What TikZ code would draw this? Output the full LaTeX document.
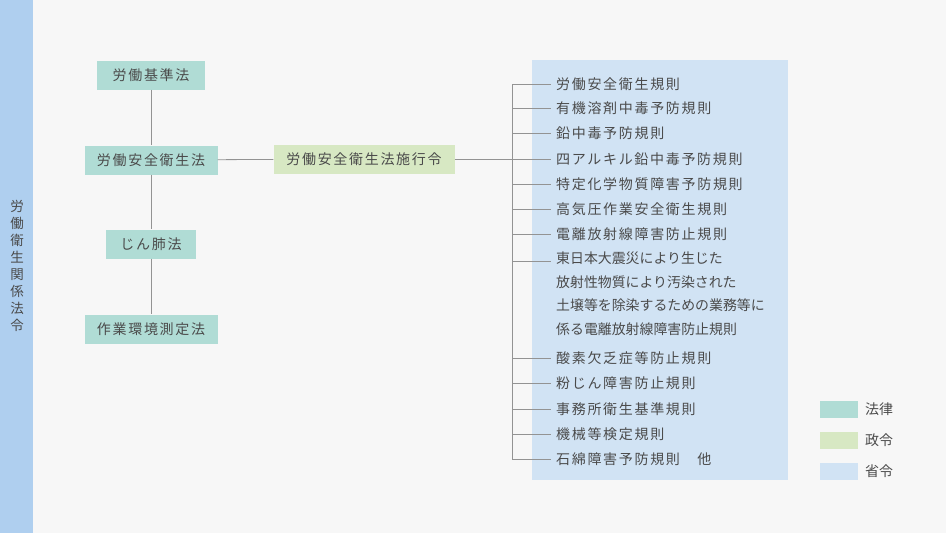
\documentclass[tikz,border=0pt]{standalone}
\usepackage{fontspec}
\newfontfamily\jpfont{Noto Sans CJK JP}
\newfontfamily\jpwide[LetterSpace=12]{Noto Sans CJK JP}
\definecolor{bg}{HTML}{F7F7F7}
\definecolor{sidebar}{HTML}{AFCFEF}
\definecolor{law}{HTML}{B0DCD5}
\definecolor{order}{HTML}{D7E8C3}
\definecolor{rule}{HTML}{D1E3F4}
\definecolor{txt}{HTML}{4A4A4A}
\definecolor{wire}{HTML}{939393}

\begin{document}
\begin{tikzpicture}[x=1pt,y=-1pt,
  every node/.style={text=txt,font=\jpwide\fontsize{14}{16}\selectfont},
  lawbox/.style={fill=law,minimum height=29pt,inner sep=0pt},
  orderbox/.style={fill=order,minimum height=29pt,inner sep=0pt},
  item/.style={anchor=west,inner xsep=5pt,inner ysep=0pt},
  key/.style={minimum width=38pt,minimum height=17pt,inner sep=0pt},
  wire/.style={draw=wire,line width=0.8pt}]
  \fill[bg] (0,0) rectangle (946,533);
  \fill[sidebar] (0,0) rectangle (33,533);
  \fill[rule] (532,60) rectangle (788,480);
  \node[align=center,font=\jpfont\fontsize{13.5}{16.9}\selectfont] (side) at (17,266) {労\\働\\衛\\生\\関\\係\\法\\令};
  % laws
  \path (151,75) node[lawbox,minimum width=108pt] (lsa) {労働基準法}
  (151,160) node[lawbox,minimum width=133pt] (ish) {労働安全衛生法}
  (151,244) node[lawbox,minimum width=90pt] (pnc) {じん肺法}
  (151,329) node[lawbox,minimum width=133pt] (wem) {作業環境測定法}
  (364,159) node[orderbox,minimum width=181pt] (ord) {労働安全衛生法施行令};
  \draw[wire] (lsa) -- (ish) -- (pnc) -- (wem);
  \draw[wire] (ish) -- (ord);
  \coordinate (st) at (512,84);
  \coordinate (sb) at (512,459);
  \draw[wire] (ord.east) -- (512,159);
  \draw[wire] (st) -- (sb);
  % ordinances
  \foreach \y/\n/\t in {84/r1/労働安全衛生規則,108/r2/有機溶剤中毒予防規則,133/r3/鉛中毒予防規則,
    159/r4/四アルキル鉛中毒予防規則,184/r5/特定化学物質障害予防規則,209/r6/高気圧作業安全衛生規則,
    234/r7/電離放射線障害防止規則,358/r8/酸素欠乏症等防止規則,383/r9/粉じん障害防止規則,
    409/r10/事務所衛生基準規則,434/r11/機械等検定規則,459/r12/石綿障害予防規則　他}{
    \node[item] (\n) at (551,\y) {\t};
    \draw[wire] (512,\y) -- (\n.west);
  }
  \node[anchor=north west,inner sep=0pt,align=left,font=\jpfont\fontsize{13.9}{23.7}\selectfont] (quake) at (556,251.5)
    {東日本大震災により生じた\\放射性物質により汚染された\\土壌等を除染するための業務等に\\係る電離放射線障害防止規則};
  \coordinate (qt) at (551,261);
  \draw[wire] (512,261) -- (qt);
  % legend
  \node[key,fill=law] (k1) at (839,409.5) {};
  \node[key,fill=order] (k2) at (839,440.5) {};
  \node[key,fill=rule] (k3) at (839,471.5) {};
  \node[anchor=west,inner sep=0pt,font=\jpfont\fontsize{14}{16}\selectfont] (k1t) at (865,409.5) {法律};
  \node[anchor=west,inner sep=0pt,font=\jpfont\fontsize{14}{16}\selectfont] (k2t) at (865,440.5) {政令};
  \node[anchor=west,inner sep=0pt,font=\jpfont\fontsize{14}{16}\selectfont] (k3t) at (865,471.5) {省令};
\end{tikzpicture}
\end{document}
